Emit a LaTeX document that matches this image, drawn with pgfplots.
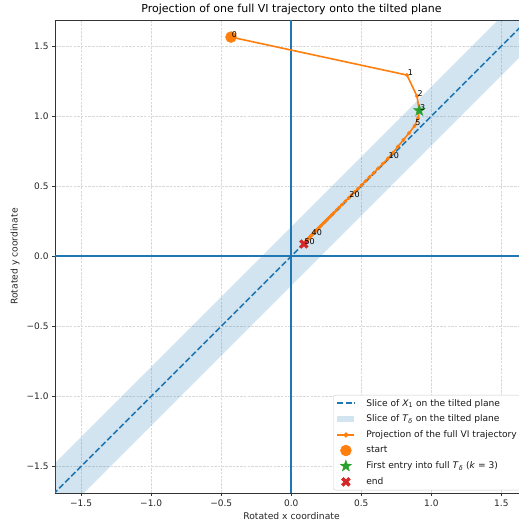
\documentclass[border=0pt]{standalone}
\usepackage{fontspec}
\setmainfont{DejaVu Sans}
\usepackage{pgfplots}
\pgfplotsset{compat=1.18}
\definecolor{tabblue}{HTML}{1F77B4}
\definecolor{taborange}{HTML}{FF7F0E}
\definecolor{tabgreen}{HTML}{2CA02C}
\definecolor{tabred}{HTML}{D62728}
\definecolor{bandblue}{HTML}{D2E4F0}

\pgfdeclareplotmark{fstar}{%
 \pgfpathmoveto{\pgfpointpolar{90}{\pgfplotmarksize}}%
 \pgfpathlineto{\pgfpointpolar{126}{0.4\pgfplotmarksize}}%
 \pgfpathlineto{\pgfpointpolar{162}{\pgfplotmarksize}}%
 \pgfpathlineto{\pgfpointpolar{198}{0.4\pgfplotmarksize}}%
 \pgfpathlineto{\pgfpointpolar{234}{\pgfplotmarksize}}%
 \pgfpathlineto{\pgfpointpolar{270}{0.4\pgfplotmarksize}}%
 \pgfpathlineto{\pgfpointpolar{306}{\pgfplotmarksize}}%
 \pgfpathlineto{\pgfpointpolar{342}{0.4\pgfplotmarksize}}%
 \pgfpathlineto{\pgfpointpolar{18}{\pgfplotmarksize}}%
 \pgfpathlineto{\pgfpointpolar{54}{0.4\pgfplotmarksize}}%
 \pgfpathclose
 \pgfusepathqfillstroke}

\pgfdeclareplotmark{fX}{%
 \pgftransformrotate{45}%
 \pgfpathmoveto{\pgfpoint{0.3\pgfplotmarksize}{\pgfplotmarksize}}%
 \pgfpathlineto{\pgfpoint{0.3\pgfplotmarksize}{0.3\pgfplotmarksize}}%
 \pgfpathlineto{\pgfpoint{\pgfplotmarksize}{0.3\pgfplotmarksize}}%
 \pgfpathlineto{\pgfpoint{\pgfplotmarksize}{-0.3\pgfplotmarksize}}%
 \pgfpathlineto{\pgfpoint{0.3\pgfplotmarksize}{-0.3\pgfplotmarksize}}%
 \pgfpathlineto{\pgfpoint{0.3\pgfplotmarksize}{-\pgfplotmarksize}}%
 \pgfpathlineto{\pgfpoint{-0.3\pgfplotmarksize}{-\pgfplotmarksize}}%
 \pgfpathlineto{\pgfpoint{-0.3\pgfplotmarksize}{-0.3\pgfplotmarksize}}%
 \pgfpathlineto{\pgfpoint{-\pgfplotmarksize}{-0.3\pgfplotmarksize}}%
 \pgfpathlineto{\pgfpoint{-\pgfplotmarksize}{0.3\pgfplotmarksize}}%
 \pgfpathlineto{\pgfpoint{-0.3\pgfplotmarksize}{0.3\pgfplotmarksize}}%
 \pgfpathlineto{\pgfpoint{-0.3\pgfplotmarksize}{\pgfplotmarksize}}%
 \pgfpathclose
 \pgfusepathqfillstroke}

\pgfplotstableread{
x y
-0.430 1.564
0.826 1.293
0.897 1.143
0.914 1.040
0.905 0.985
0.880 0.930
0.840 0.878
0.800 0.830
0.762 0.783
0.725 0.738
0.690 0.698
0.654 0.661
0.620 0.627
0.588 0.594
0.558 0.564
0.530 0.536
0.503 0.509
0.478 0.484
0.454 0.460
0.431 0.437
0.410 0.416
0.386 0.392
0.363 0.369
0.342 0.348
0.323 0.329
0.304 0.310
0.287 0.293
0.271 0.277
0.257 0.263
0.243 0.249
0.230 0.236
0.218 0.224
0.207 0.213
0.196 0.202
0.186 0.192
0.177 0.183
0.169 0.175
0.161 0.167
0.153 0.159
0.146 0.151
0.140 0.145
0.133 0.137
0.127 0.130
0.121 0.124
0.115 0.117
0.110 0.111
0.105 0.105
0.101 0.100
0.097 0.095
0.093 0.091
0.090 0.087
}\traj

\pgfplotstableread{
x y lab
-0.430 1.564 0
0.826 1.293 1
0.897 1.143 2
0.914 1.040 3
0.880 0.930 5
0.690 0.698 10
0.410 0.416 20
0.140 0.145 40
0.090 0.087 50
}\labs

\begin{document}
\begin{tikzpicture}
\begin{axis}[
  scale only axis, width=472.6pt, height=472.6pt,
  xmin=-1.686, xmax=1.69, ymin=-1.69, ymax=1.686,
  xtick={-1.5,-1,-0.5,0,0.5,1,1.5},
  xticklabels={−1.5,−1.0,−0.5,0.0,0.5,1.0,1.5},
  ytick={-1.5,-1,-0.5,0,0.5,1,1.5},
  yticklabels={−1.5,−1.0,−0.5,0.0,0.5,1.0,1.5},
  tick pos=left, tick align=outside, major tick length=3pt,
  every tick/.style={black!80, line width=0.6pt},
  axis line style={line width=0.6pt, black!80},
  grid=major, major grid style={gray!30, dash pattern=on 2.5pt off 1.2pt, line width=0.5pt},
  ticklabel style={font=\fontsize{9}{10.8}\selectfont, text=black!85},
  xlabel={Rotated x coordinate},
  xlabel style={font=\fontsize{9.2}{11}\selectfont, text=black!85, at={(axis description cs:0.5,-0.0563)}, anchor=base, yshift=0pt},
  ylabel={Rotated y coordinate},
  ylabel style={font=\fontsize{9.2}{11}\selectfont, text=black!85, at={(axis description cs:-0.0846,0.5)}, anchor=center},
  legend style={at={(0.5883,0.0056)}, anchor=south west, font=\fontsize{9.1}{11}\selectfont,
    draw=gray!40, rounded corners=2pt, fill=white, row sep=3.4pt, column sep=9pt, text=black!90},
  legend cell align=left,
]
\coordinate (BL) at (rel axis cs:0,0);
\coordinate (TL) at (rel axis cs:0,1);
% band
\addplot[fill=tabblue, fill opacity=0.2, draw=none, forget plot]
  coordinates {(-2.5,-2.29) (2.5,2.71) (2.5,2.29) (-2.5,-2.71)} -- cycle;
% zero lines
\addplot[color=tabblue, line width=1.5pt, forget plot] table {
x y
-1.686 0
0 0
1.69 0
};
\addplot[color=tabblue, line width=1.5pt, forget plot] table {
x y
0 -1.69
0 0
0 1.686
};
% X1 slice
\addplot[draw=tabblue, dash pattern=on 5.9pt off 2.6pt, line width=1.7pt, forget plot]
  coordinates {(-2,-2) (2,2)};
% trajectory
\addplot[draw=taborange, line width=1.6pt, mark=*, mark size=1.7pt,
  mark options={fill=taborange, draw=taborange, line width=0.5pt}, forget plot] table {\traj};
\addplot[only marks, mark=*, mark size=5.5pt, taborange, forget plot] coordinates {(-0.430,1.564)};
\addplot[only marks, mark=fstar, mark size=6pt, tabgreen, forget plot] coordinates {(0.914,1.040)};
\addplot[only marks, mark=fX, mark size=4.8pt, tabred, forget plot] coordinates {(0.090,0.087)};
% labels
\addplot[only marks, mark=none, nodes near coords, point meta=explicit symbolic,
  nodes near coords style={anchor=base west, font=\fontsize{8}{9.6}\selectfont, inner sep=0.6pt, text=black},
  forget plot] table[meta=lab] {\labs};

\addlegendimage{tabblue, dash pattern=on 5.9pt off 2.6pt, line width=1.7pt}
\addlegendentry{Slice of \textit{X}\textsubscript{1} on the tilted plane}
\addlegendimage{legend image code/.code={\path[fill=bandblue, draw=none, rounded corners=0pt] (0cm,-0.11cm) rectangle (0.6cm,0.11cm);}}
\addlegendentry{Slice of \textit{T}\textsubscript{\textit{δ}} on the tilted plane}
\addlegendimage{taborange, line width=1.6pt, mark=*, mark size=1.7pt, mark options={fill=taborange}}
\addlegendentry{Projection of the full VI trajectory}
\addlegendimage{only marks, mark=*, mark size=5.5pt, taborange}
\addlegendentry{start}
\addlegendimage{only marks, mark=fstar, mark size=6pt, tabgreen}
\addlegendentry{First entry into full \textit{T}\textsubscript{\textit{δ}} (\textit{k} = 3)}
\addlegendimage{only marks, mark=fX, mark size=4.8pt, tabred}
\addlegendentry{end}
\end{axis}
\node[anchor=base, font=\fontsize{11}{13}\selectfont, inner sep=0pt] at ([xshift=236.3pt,yshift=7pt]TL) {Projection of one full VI trajectory onto the tilted plane};
\pgfresetboundingbox
\path[use as bounding box] ([xshift=-55pt,yshift=-34pt]BL) rectangle ([xshift=463pt,yshift=20pt]TL);
\end{tikzpicture}
\end{document}
